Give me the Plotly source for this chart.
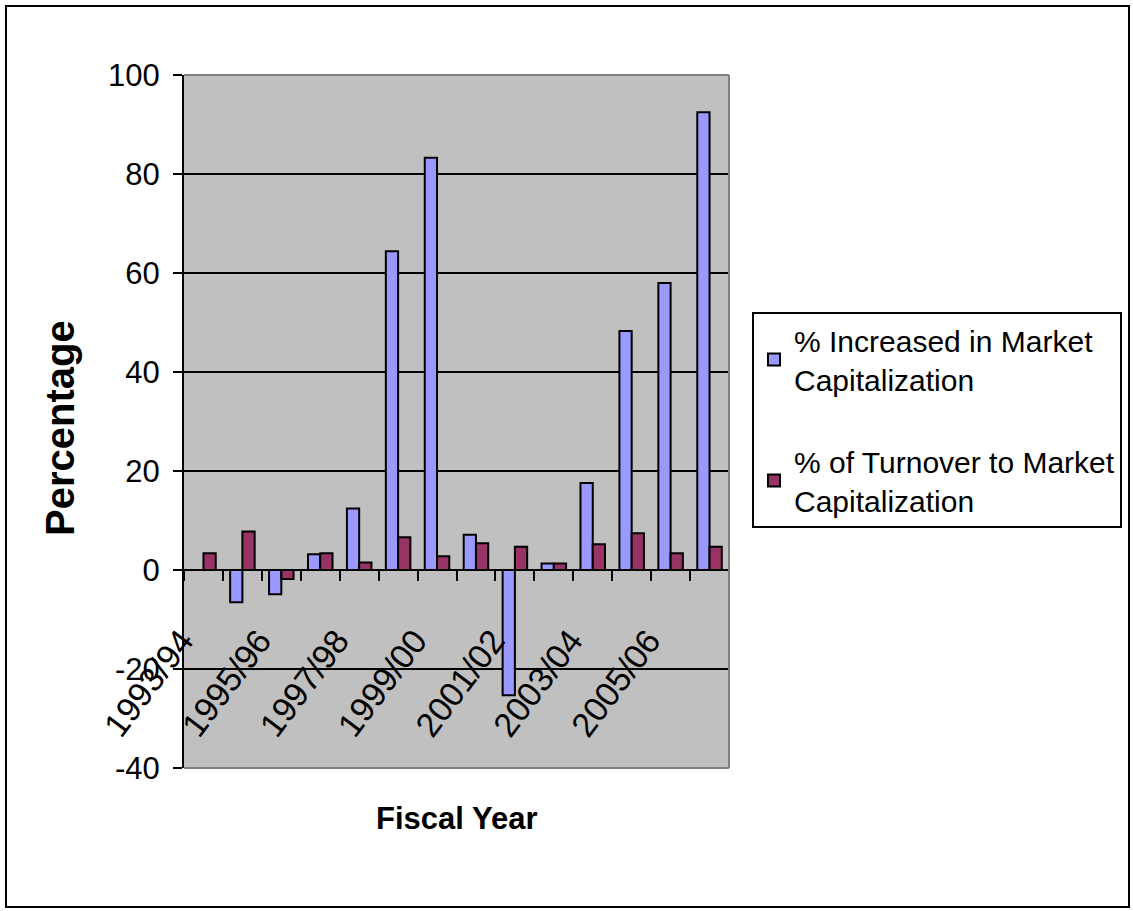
import plotly.graph_objects as go

# ---- data -------------------------------------------------------------
fiscal_years = [
    "1993/94", "1994/95", "1995/96", "1996/97", "1997/98", "1998/99", "1999/00",
    "2000/01", "2001/02", "2002/03", "2003/04", "2004/05", "2005/06", "2006/07",
]
mcap_increase = [None, -6.5, -4.9, 3.2, 12.4, 64.4, 83.3, 7.1, -25.3, 1.3, 17.6, 48.3, 58.0, 92.5]
turnover_ratio = [3.4, 7.8, -1.8, 3.4, 1.5, 6.6, 2.8, 5.4, 4.7, 1.3, 5.2, 7.4, 3.4, 4.7]
# every other year carries a label on the category axis
tick_text = [y if i % 2 == 0 else "" for i, y in enumerate(fiscal_years)]

y_tick_values = [-40, -20, 0, 20, 40, 60, 80, 100]
y_tick_text = ["-40", "-20", "0", "20", "40", "60", "80", "100"]

series_names = [
    "% Increased in Market<br>Capitalization",
    "% of Turnover to Market<br>Capitalization",
]

# ---- page geometry (pixels) -----------------------------------------
W, H = 1133, 911
PL, PR, PT, PB = 184, 729, 75, 768
Y_MIN, Y_MAX = -40, 100


def px_x(px):
    return (px - PL) / (PR - PL)


def px_y(py):
    return (PB - py) / (PB - PT)


FONT = '"Liberation Sans", Arial, sans-serif'

fig = go.Figure()
fig.add_bar(
    name=series_names[0], x=fiscal_years, y=mcap_increase, legendgroup="a",
    marker=dict(color="#9999FF", line=dict(color="black", width=2)),
)
fig.add_bar(
    name=series_names[1], x=fiscal_years, y=turnover_ratio, legendgroup="b",
    marker=dict(color="#993366", line=dict(color="black", width=2)),
)

zero_pos = (0 - Y_MIN) / (Y_MAX - Y_MIN)

fig.update_layout(
    width=W, height=H,
    margin=dict(l=PL, r=W - PR, t=PT, b=H - PB, autoexpand=False),
    paper_bgcolor="white",
    plot_bgcolor="#C0C0C0",
    barmode="group",
    bargap=0.37,
    bargroupgap=0,
    font=dict(family=FONT, color="black"),
    xaxis=dict(
        type="category",
        categoryorder="array",
        categoryarray=fiscal_years,
        range=[-0.5, len(fiscal_years) - 0.5],
        anchor="free",
        position=zero_pos,
        showline=True, linecolor="black", linewidth=2,
        ticks="outside", ticklen=10, tickwidth=2, tickcolor="black",
        tickson="boundaries",
        tickmode="array", tickvals=fiscal_years, ticktext=tick_text,
        tickangle=-53,
        ticklabelstandoff=36,
        ticklabelshift=-22,
        tickfont=dict(family=FONT, size=34),
        showgrid=False, zeroline=False,
    ),
    yaxis=dict(
        range=[Y_MIN, Y_MAX],
        tickmode="array", tickvals=y_tick_values, ticktext=y_tick_text,
        showline=True, linecolor="black", linewidth=2,
        ticks="outside", ticklen=9, tickwidth=2, tickcolor="black",
        tickfont=dict(family=FONT, size=31),
        ticklabelstandoff=7,
        showgrid=True, gridcolor="black", gridwidth=2,
        zeroline=False,
    ),
    legend=dict(
        x=px_x(752), y=px_y(420), xanchor="left", yanchor="middle",
        bgcolor="white", bordercolor="black", borderwidth=2,
        font=dict(family=FONT, size=30),
        tracegroupgap=40,
        traceorder="grouped",
    ),
    annotations=[
        dict(text="<b>Fiscal Year</b>", xref="paper", yref="paper",
             x=px_x(456), y=px_y(818), xanchor="center", yanchor="middle",
             showarrow=False, font=dict(family=FONT, size=31)),
        dict(text="<b>Percentage</b>", xref="paper", yref="paper",
             x=px_x(60), y=px_y(428), xanchor="center", yanchor="middle",
             textangle=-90, showarrow=False, font=dict(family=FONT, size=40)),
    ],
    shapes=[
        # plot-area border (top, right, bottom)
        dict(type="line", xref="x domain", yref="y domain", x0=0, x1=1, y0=1, y1=1,
             line=dict(color="#808080", width=2)),
        dict(type="line", xref="x domain", yref="y domain", x0=1, x1=1, y0=0, y1=1,
             line=dict(color="#808080", width=2)),
        dict(type="line", xref="x domain", yref="y domain", x0=0, x1=1, y0=0, y1=0,
             line=dict(color="#808080", width=2)),
        # chart frame
        dict(type="rect", xref="paper", yref="paper",
             x0=px_x(6), x1=px_x(1129), y0=px_y(907), y1=px_y(6),
             line=dict(color="black", width=2), fillcolor="rgba(0,0,0,0)"),
    ],
)

fig.write_html("out.html")
